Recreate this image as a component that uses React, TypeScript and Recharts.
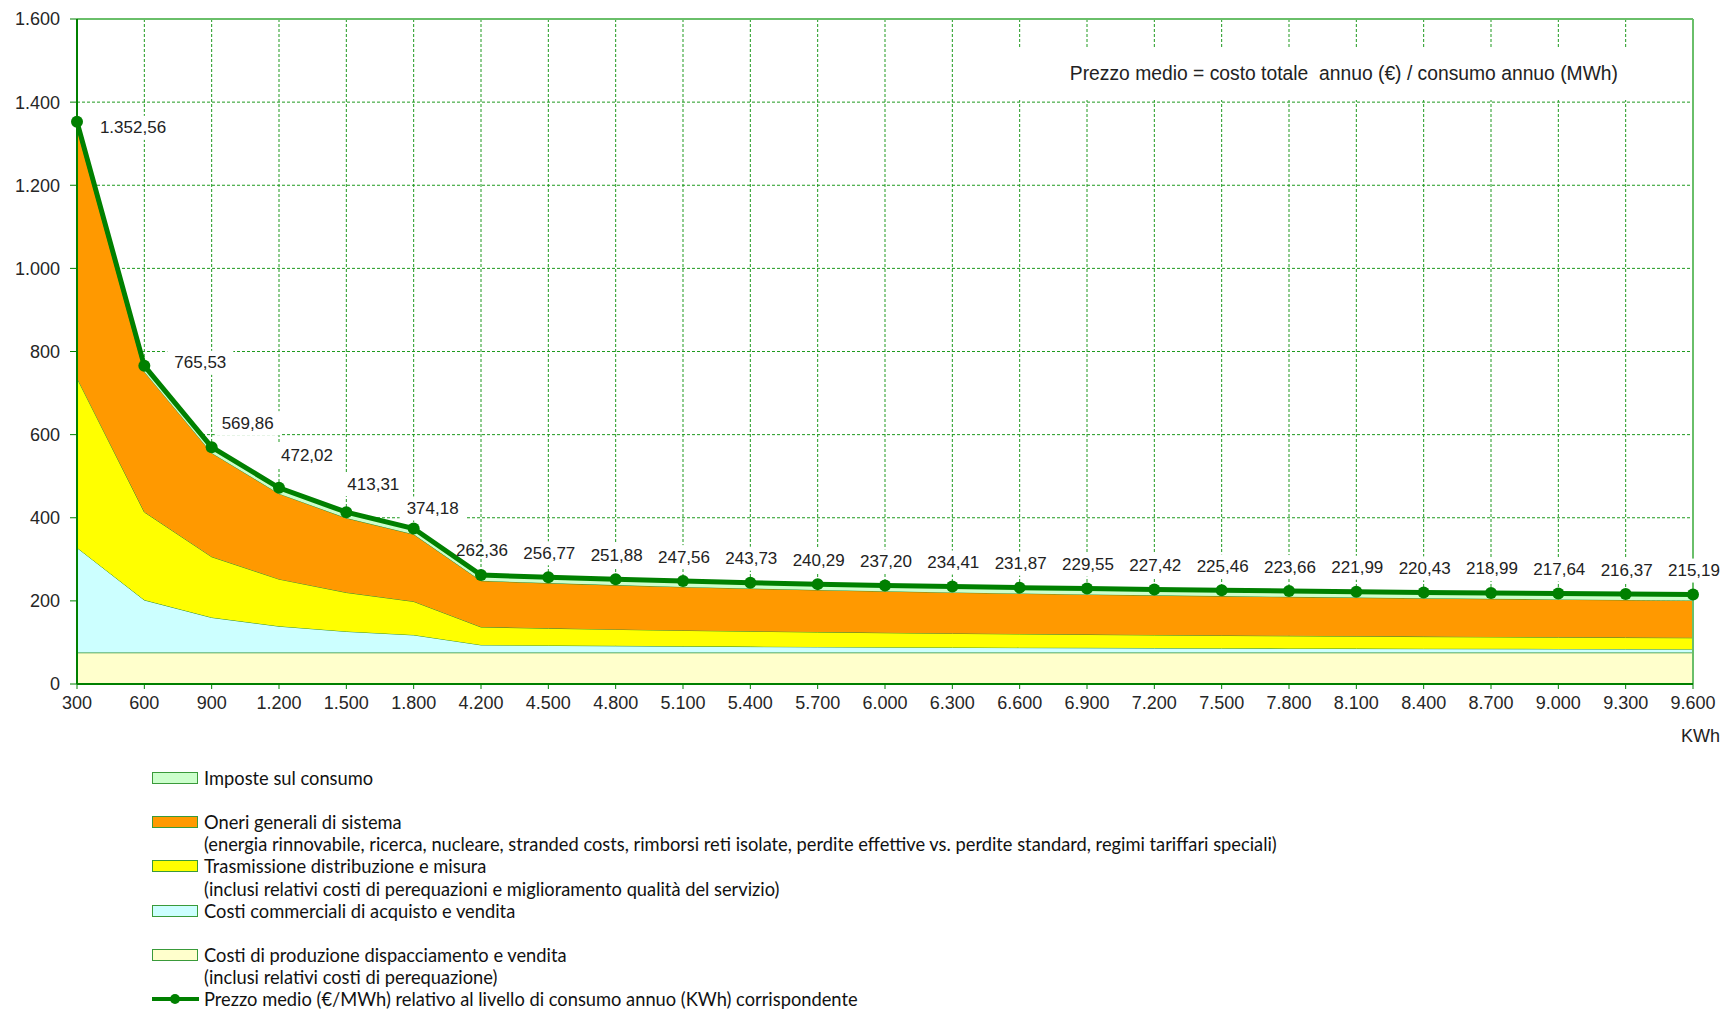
import React from "react";
import {
  ComposedChart,
  Area,
  Line,
  XAxis,
  YAxis,
  CartesianGrid,
  LabelList,
  ReferenceLine,
} from "recharts";

// annual consumption levels (kWh)
const consumi = [
  300, 600, 900, 1200, 1500, 1800, 4200, 4500, 4800, 5100, 5400, 5700, 6000,
  6300, 6600, 6900, 7200, 7500, 7800, 8100, 8400, 8700, 9000, 9300, 9600,
];

// €/MWh components (bottom to top)
const produzione = [
  76, 76, 76, 76, 76, 76, 76, 76, 76, 76, 76, 76, 76, 76, 76, 76, 76, 76, 76,
  76, 76, 76, 76, 76, 76,
];
const commerciali = [
  252.0, 126.0, 84.0, 63.0, 50.4, 42.0, 18.0, 16.8, 15.8, 14.8, 14.0, 13.3,
  12.6, 12.0, 11.5, 11.0, 10.5, 10.1, 9.7, 9.3, 9.0, 8.7, 8.4, 8.1, 7.9,
];
const trasmissione = [
  408.3, 211.7, 146.1, 113.3, 93.7, 80.6, 43.1, 41.2, 39.6, 38.1, 36.9, 35.7,
  34.7, 33.7, 32.9, 32.1, 31.4, 30.7, 30.1, 29.6, 29.0, 28.6, 28.1, 27.7, 27.3,
];
const oneri = [
  602.3, 337.8, 249.8, 205.7, 179.2, 161.6, 111.3, 108.8, 106.5, 104.7, 102.8,
  101.3, 99.9, 98.7, 97.5, 96.5, 95.5, 94.7, 93.9, 93.1, 92.4, 91.7, 91.1,
  90.6, 90.0,
];
const imposte = [
  14, 14, 14, 14, 14, 14, 14, 14, 14, 14, 14, 14, 14, 14, 14, 14, 14, 14, 14,
  14, 14, 14, 14, 14, 14,
];
// prezzo medio (data labels)
const prezzoMedio = [
  1352.56, 765.53, 569.86, 472.02, 413.31, 374.18, 262.36, 256.77, 251.88,
  247.56, 243.73, 240.29, 237.2, 234.41, 231.87, 229.55, 227.42, 225.46,
  223.66, 221.99, 220.43, 218.99, 217.64, 216.37, 215.19,
];

const yTicks = [0, 200, 400, 600, 800, 1000, 1200, 1400, 1600];

const data = consumi.map((kwh, i) => ({
  kwh,
  produzione: produzione[i],
  commerciali: commerciali[i],
  trasmissione: trasmissione[i],
  oneri: oneri[i],
  imposte: imposte[i],
  prezzo: prezzoMedio[i],
}));

const legendLines: { swatch?: string; line?: boolean; text: string }[] = [
  { swatch: "#CCFFCC", text: "Imposte sul consumo" },
  { text: "" },
  { swatch: "#FF9900", text: "Oneri generali di sistema" },
  {
    text: "(energia rinnovabile, ricerca, nucleare, stranded costs, rimborsi reti isolate, perdite effettive vs. perdite standard, regimi tariffari speciali)",
  },
  { swatch: "#FFFF00", text: "Trasmissione distribuzione e misura" },
  {
    text: "(inclusi relativi costi di perequazioni e miglioramento qualità del servizio)",
  },
  { swatch: "#CCFFFF", text: "Costi commerciali di acquisto e vendita" },
  { text: "" },
  { swatch: "#FFFFCC", text: "Costi di produzione dispacciamento e vendita" },
  { text: "(inclusi relativi costi di perequazione)" },
  {
    line: true,
    text: "Prezzo medio (€/MWh) relativo al livello di consumo annuo (KWh) corrispondente",
  },
];

const GREEN = "#008000";
const AREA_STROKE = "#2f8f2f";
const FONT = "'Liberation Sans', Arial, sans-serif";

const fmtInt = (v: number) =>
  String(Math.round(v)).replace(/\B(?=(\d{3})+(?!\d))/g, ".");
const fmtDec = (v: number) => {
  const [i, d] = v.toFixed(2).split(".");
  return `${fmtInt(Number(i))},${d}`;
};

// manual nudges for the first labels, like in the original sheet
const labelNudge: Record<number, [number, number]> = {
  0: [56, 6],
  1: [56, -3],
  2: [36, -24],
  3: [28, -32],
  4: [27, -28],
  5: [19, -20],
};
const nudge = (index: number) => labelNudge[index] ?? [1, -24];
// label that sits on the line segment: no white box there
const noBox = new Set([6]);

const PriceLabel = (props: any) => {
  const { x, y, value, index } = props;
  const [dx, dy] = nudge(index);
  const text = fmtDec(Number(value));
  const w = text.length * 9 + 12;
  return (
    <g>
      {!noBox.has(index) && (
        <rect x={x + dx - w / 2} y={y + dy - 12} width={w} height={24} fill="#fff" />
      )}
      <text
        x={x + dx}
        y={y + dy}
        textAnchor="middle"
        dominantBaseline="central"
        fontFamily={FONT}
        fontSize={17}
        fill="#222"
      >
        {text}
      </text>
    </g>
  );
};

export default function App() {
  return (
    <div
      style={{
        position: "absolute",
        left: 0,
        top: 0,
        width: 1726,
        height: 1013,
        background: "#fff",
        overflow: "hidden",
      }}
    >
      <ComposedChart
        width={1726}
        height={760}
        data={data}
        margin={{ top: 19, right: 33, bottom: 46, left: 0 }}
      >
        <CartesianGrid
          stroke="#1f9a1f"
          strokeDasharray="3 2"
          strokeWidth={1}
        />
        <XAxis
          dataKey="kwh"
          scale="point"
          padding={{ left: 0, right: 0 }}
          interval={0}
          height={30}
          tickFormatter={fmtInt}
          tick={{ fill: "#262626", fontSize: 18, fontFamily: FONT }}
          tickSize={5}
          tickMargin={7}
          axisLine={{ stroke: GREEN, strokeWidth: 2 }}
          tickLine={{ stroke: GREEN }}
        />
        <YAxis
          width={77}
          domain={[0, 1600]}
          ticks={yTicks}
          interval={0}
          tickFormatter={fmtInt}
          tick={{ fill: "#262626", fontSize: 18, fontFamily: FONT }}
          tickSize={7}
          tickMargin={10}
          axisLine={{ stroke: GREEN, strokeWidth: 2 }}
          tickLine={{ stroke: GREEN }}
        />
        <ReferenceLine y={1600} stroke="#6abf6a" strokeWidth={2} />
        <ReferenceLine x={9600} stroke="#6abf6a" strokeWidth={2} />
        <Area
          type="linear"
          dataKey="produzione"
          stackId="c"
          fill="#FFFFCC"
          fillOpacity={1}
          stroke={AREA_STROKE}
          strokeWidth={1.5}
          isAnimationActive={false}
        />
        <Area
          type="linear"
          dataKey="commerciali"
          stackId="c"
          fill="#CCFFFF"
          fillOpacity={1}
          stroke={AREA_STROKE}
          strokeWidth={1}
          isAnimationActive={false}
        />
        <Area
          type="linear"
          dataKey="trasmissione"
          stackId="c"
          fill="#FFFF00"
          fillOpacity={1}
          stroke={AREA_STROKE}
          strokeWidth={1}
          isAnimationActive={false}
        />
        <Area
          type="linear"
          dataKey="oneri"
          stackId="c"
          fill="#FF9900"
          fillOpacity={1}
          stroke={AREA_STROKE}
          strokeWidth={1}
          isAnimationActive={false}
        />
        <Area
          type="linear"
          dataKey="imposte"
          stackId="c"
          fill="#CCFFCC"
          fillOpacity={1}
          stroke={AREA_STROKE}
          strokeWidth={1}
          isAnimationActive={false}
        />
        <Line
          type="linear"
          dataKey="prezzo"
          stroke={GREEN}
          strokeWidth={5}
          dot={{ r: 6, fill: GREEN, stroke: GREEN, strokeWidth: 0 }}
          activeDot={false}
          isAnimationActive={false}
        >
          <LabelList dataKey="prezzo" content={PriceLabel} />
        </Line>
      </ComposedChart>

      {/* formula note box */}
      <div
        style={{
          position: "absolute",
          left: 985,
          top: 47,
          width: 707,
          height: 53,
          background: "#fff",
          fontFamily: FONT,
          fontSize: 19.3,
          color: "#222",
          display: "flex",
          alignItems: "center",
          justifyContent: "flex-end",
          paddingRight: 74,
          boxSizing: "border-box",
          whiteSpace: "nowrap",
        }}
      >
        Prezzo medio = costo totale&nbsp; annuo (€) / consumo annuo (MWh)
      </div>

      <div
        style={{
          position: "absolute",
          left: 1681,
          top: 726,
          fontFamily: FONT,
          fontSize: 18,
          color: "#222",
        }}
      >
        KWh
      </div>

      {/* legend */}
      <div
        style={{
          position: "absolute",
          left: 152,
          top: 767,
          fontFamily: "Lato, 'Liberation Sans', sans-serif",
          fontSize: 18.3,
          color: "#111",
        }}
      >
        {legendLines.map((row, i) => (
          <div
            key={i}
            style={{
              height: 22.1,
              lineHeight: "22px",
              display: "flex",
              alignItems: "center",
              whiteSpace: "nowrap",
            }}
          >
            <div style={{ width: 52, flex: "none", position: "relative", height: 22 }}>
              {row.swatch && (
                <div
                  style={{
                    position: "absolute",
                    left: 0,
                    top: 5,
                    width: 44,
                    height: 10,
                    background: row.swatch,
                    border: "1.5px solid #3a9a3a",
                  }}
                />
              )}
              {row.line && (
                <svg width={48} height={22} style={{ position: "absolute", left: 0, top: 0 }}>
                  <line x1={0} y1={11} x2={47} y2={11} stroke={GREEN} strokeWidth={4} />
                  <circle cx={23} cy={11} r={5} fill={GREEN} />
                </svg>
              )}
            </div>
            <span>{row.text}</span>
          </div>
        ))}
      </div>
    </div>
  );
}
